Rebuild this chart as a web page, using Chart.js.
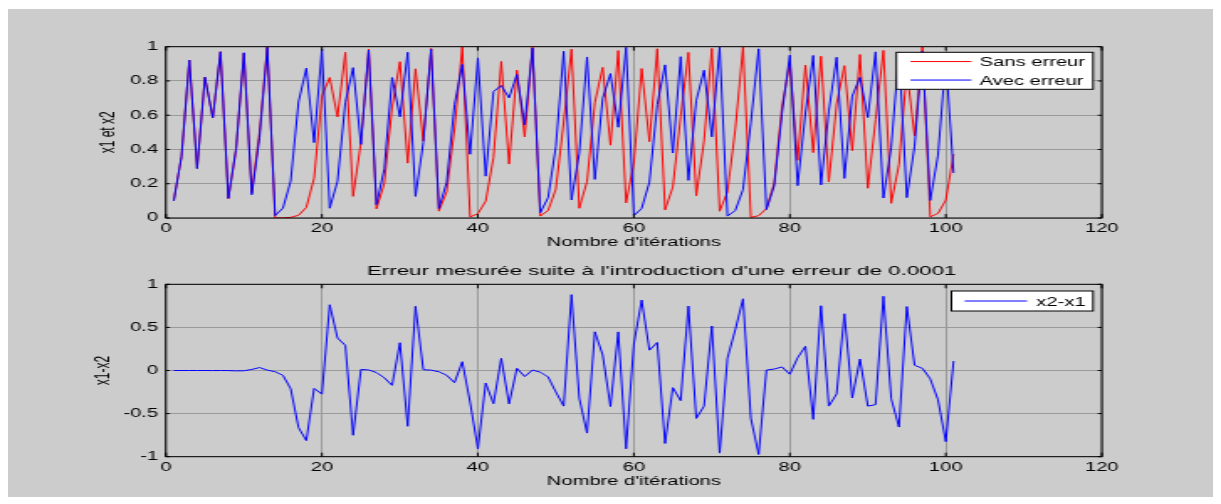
<!DOCTYPE html>
<html>
<head>
<meta charset="utf-8">
<script src="https://cdn.jsdelivr.net/npm/chart.js@4.4.1/dist/chart.umd.min.js"></script>
<style>
  html, body { margin: 0; padding: 0; background: #ffffff; }
  #page { position: relative; width: 1221px; height: 504px; overflow: hidden; }
  #fig { position: absolute; left: 8px; top: 9px; width: 1205px; height: 488px; background: #cccccc; }
  .plot { position: absolute; left: 0; width: 727px; height: 252px; transform-origin: 0 0; }
  #top { top: 0; }
  #bottom { top: 252px; }
</style>
</head>
<body>
<div id="page">
  <div id="fig"></div>
  <div class="plot" id="top"><canvas id="chartTop" width="727" height="252"></canvas></div>
  <div class="plot" id="bottom"><canvas id="chartBottom" width="727" height="252"></canvas></div>
</div>
<script>
// iteration index and the two logistic-map runs (without / with the initial error)
const iterations = [
  1, 2, 3, 4, 5, 6, 7, 8, 9, 10,
  11, 12, 13, 14, 15, 16, 17, 18, 19, 20,
  21, 22, 23, 24, 25, 26, 27, 28, 29, 30,
  31, 32, 33, 34, 35, 36, 37, 38, 39, 40,
  41, 42, 43, 44, 45, 46, 47, 48, 49, 50,
  51, 52, 53, 54, 55, 56, 57, 58, 59, 60,
  61, 62, 63, 64, 65, 66, 67, 68, 69, 70,
  71, 72, 73, 74, 75, 76, 77, 78, 79, 80,
  81, 82, 83, 84, 85, 86, 87, 88, 89, 90,
  91, 92, 93, 94, 95, 96, 97, 98, 99, 100,
  101
];

const sansErreur = [
  0.1, 0.36, 0.9216, 0.289, 0.8219, 0.5854, 0.9708, 0.1133, 0.402, 0.9616,
  0.1478, 0.5039, 0.9999, 0.0002, 0.001, 0.0039, 0.0157, 0.0617, 0.2317, 0.7121,
  0.82, 0.5904, 0.9673, 0.1264, 0.4417, 0.9864, 0.0537, 0.2034, 0.6482, 0.9122,
  0.3204, 0.8709, 0.4498, 0.9899, 0.04, 0.1536, 0.5199, 0.9984, 0.0063, 0.0251,
  0.0979, 0.3533, 0.9139, 0.3148, 0.8628, 0.4735, 0.9972, 0.0111, 0.044, 0.1684,
  0.56, 0.9856, 0.0568, 0.2144, 0.6738, 0.8792, 0.425, 0.9775, 0.0881, 0.3214,
  0.8724, 0.4453, 0.988, 0.0473, 0.1804, 0.5914, 0.9666, 0.1292, 0.4501, 0.99,
  0.0395, 0.1517, 0.5147, 0.9991, 0.0035, 0.0137, 0.0542, 0.2052, 0.6523, 0.9073,
  0.3366, 0.8931, 0.3818, 0.9441, 0.2111, 0.6663, 0.8894, 0.3934, 0.9545, 0.1737,
  0.574, 0.9781, 0.0857, 0.3134, 0.8607, 0.4795, 0.9983, 0.0067, 0.0267, 0.1041,
  0.373
];

const avecErreur = [
  0.1, 0.36, 0.9216, 0.2889, 0.8217, 0.586, 0.9705, 0.1147, 0.4062, 0.9648,
  0.1359, 0.4698, 0.9964, 0.0145, 0.0573, 0.216, 0.6773, 0.8742, 0.4399, 0.9856,
  0.057, 0.2149, 0.6749, 0.8777, 0.4295, 0.9801, 0.0781, 0.2879, 0.8201, 0.5903,
  0.9674, 0.1261, 0.4408, 0.986, 0.0553, 0.2089, 0.6611, 0.8962, 0.3722, 0.9347,
  0.2441, 0.7381, 0.7732, 0.7014, 0.8377, 0.5439, 0.9923, 0.0305, 0.1185, 0.4177,
  0.9729, 0.1056, 0.3776, 0.9401, 0.2253, 0.6982, 0.8429, 0.5297, 0.9965, 0.0141,
  0.0555, 0.2097, 0.6629, 0.8939, 0.3793, 0.9417, 0.2195, 0.6853, 0.8627, 0.4737,
  0.9972, 0.011, 0.0436, 0.1668, 0.556, 0.9875, 0.0495, 0.1883, 0.6115, 0.9503,
  0.1889, 0.6129, 0.949, 0.1935, 0.6241, 0.9384, 0.2313, 0.7113, 0.8214, 0.5867,
  0.9699, 0.1167, 0.4125, 0.9693, 0.1189, 0.419, 0.9738, 0.1022, 0.367, 0.9292,
  0.263
];

// measured gap between the two runs
const ecart = [
  0, 0, 0, 0, 0, -0.001, 0, -0.001, -0.004, -0.003,
  0.012, 0.034, 0.004, -0.014, -0.056, -0.212, -0.662, -0.813, -0.208, -0.274,
  0.763, 0.376, 0.292, -0.751, 0.012, 0.006, -0.024, -0.085, -0.172, 0.322,
  -0.647, 0.745, 0.009, 0.004, -0.015, -0.055, -0.141, 0.102, -0.366, -0.91,
  -0.146, -0.385, 0.141, -0.387, 0.025, -0.07, 0.005, -0.019, -0.075, -0.249,
  -0.413, 0.88, -0.321, -0.726, 0.449, 0.181, -0.418, 0.448, -0.908, 0.307,
  0.817, 0.236, 0.325, -0.847, -0.199, -0.35, 0.747, -0.556, -0.413, 0.516,
  -0.958, 0.141, 0.471, 0.832, -0.553, -0.974, 0.005, 0.017, 0.041, -0.043,
  0.148, 0.28, -0.567, 0.751, -0.413, -0.272, 0.658, -0.318, 0.133, -0.413,
  -0.396, 0.861, -0.327, -0.656, 0.742, 0.061, 0.025, -0.096, -0.34, -0.825,
  0.11
];

const xTicks = [0, 20, 40, 60, 80, 100, 120];
const yTicksTop = [0, 0.2, 0.4, 0.6, 0.8, 1];
const yTicksBottom = [-1, -0.5, 0, 0.5, 1];

const titreBas = "Erreur mesurée suite à l'introduction d'une erreur de 0.0001";

// the canvases are drawn narrow and widened with CSS, like the old exported figure
const CANVAS_W = 727;
const stretch = 1221 / CANVAS_W;
document.querySelectorAll('.plot').forEach(el => {
  el.style.transform = 'scaleX(' + stretch + ')';
});

const FONT = "'Liberation Sans', Arial, Helvetica, sans-serif";
Chart.defaults.font.family = FONT;
Chart.defaults.font.size = 12;
Chart.defaults.color = '#000000';

function points(ys) {
  return iterations.map((n, i) => ({ x: n, y: ys[i] }));
}

// black frame with small inward ticks on the four sides
const axesBox = {
  id: 'axesBox',
  afterDatasetsDraw(chart) {
    const { ctx, chartArea: a, scales: { x, y } } = chart;
    const tickV = 4, tickH = 4 / stretch;
    ctx.save();
    ctx.strokeStyle = '#000000';
    ctx.lineWidth = 1;
    ctx.strokeRect(a.left, a.top, a.right - a.left, a.bottom - a.top);
    ctx.beginPath();
    x.ticks.forEach(t => {
      const px = x.getPixelForValue(t.value);
      ctx.moveTo(px, a.bottom); ctx.lineTo(px, a.bottom - tickV);
      ctx.moveTo(px, a.top); ctx.lineTo(px, a.top + tickV);
    });
    y.ticks.forEach(t => {
      const py = y.getPixelForValue(t.value);
      ctx.moveTo(a.left, py); ctx.lineTo(a.left + tickH, py);
      ctx.moveTo(a.right, py); ctx.lineTo(a.right - tickH, py);
    });
    ctx.stroke();
    ctx.restore();
  }
};

// legend drawn as a white box inside the axes
const boxLegend = {
  id: 'boxLegend',
  afterDraw(chart, args, opts) {
    const { ctx } = chart;
    const sets = chart.data.datasets;
    ctx.save();
    ctx.fillStyle = '#ffffff';
    ctx.fillRect(opts.left, opts.top, opts.width, opts.height);
    ctx.lineWidth = 1;
    ctx.strokeStyle = '#000000';
    ctx.strokeRect(opts.left, opts.top, opts.width, opts.height);
    ctx.font = '12px ' + FONT;
    ctx.textBaseline = 'middle';
    ctx.textAlign = 'left';
    sets.forEach((ds, i) => {
      const rowY = opts.top + opts.height * (i + 0.5) / sets.length;
      ctx.strokeStyle = ds.borderColor;
      ctx.beginPath();
      ctx.moveTo(opts.left + opts.lineFrom, rowY);
      ctx.lineTo(opts.left + opts.lineTo, rowY);
      ctx.stroke();
      ctx.fillStyle = '#000000';
      ctx.fillText(ds.label, opts.left + opts.textX, rowY + 1.5);
    });
    ctx.restore();
  }
};

// axes title of the lower plot
const axesTitle = {
  id: 'axesTitle',
  afterDraw(chart, args, opts) {
    if (!opts.text) return;
    const { ctx } = chart;
    ctx.save();
    ctx.font = '13.3px ' + FONT;
    ctx.fillStyle = '#000000';
    ctx.textAlign = 'center';
    ctx.textBaseline = 'middle';
    ctx.fillText(opts.text, opts.x, opts.y);
    ctx.restore();
  }
};

function fixWidth(w) { return scale => { scale.width = w; }; }
function fixHeight(h) { return scale => { scale.height = h; }; }
const plainLabel = v => String(v);

function makeOptions(cfg) {
  return {
    responsive: false,
    devicePixelRatio: 1,
    animation: false,
    events: [],
    layout: { padding: cfg.padding },
    elements: { point: { radius: 0 }, line: { borderWidth: 1, tension: 0 } },
    scales: {
      x: {
        type: 'linear', min: 0, max: 120,
        afterBuildTicks: s => { s.ticks = xTicks.map(v => ({ value: v })); },
        afterFit: fixHeight(31.9),
        border: { display: false },
        grid: { color: '#9a9a9a', lineWidth: 1, drawTicks: false },
        ticks: { padding: 3.5, maxRotation: 0, autoSkip: false, callback: plainLabel, font: { size: 12 } },
        title: { display: true, text: "Nombre d'itérations", padding: 0, font: { size: 12 } }
      },
      y: {
        type: 'linear', min: cfg.yMin, max: cfg.yMax,
        afterBuildTicks: s => { s.ticks = cfg.yTicks.map(v => ({ value: v })); },
        afterFit: fixWidth(98.8 - cfg.padding.left),
        border: { display: false },
        grid: { color: '#9a9a9a', lineWidth: 1, drawTicks: false },
        ticks: { padding: 4.7, callback: plainLabel, font: { size: 12 } },
        title: { display: true, text: cfg.yTitle, padding: 0, font: { size: 12 } }
      }
    },
    plugins: {
      legend: { display: false },
      title: { display: false },
      tooltip: { enabled: false },
      boxLegend: cfg.legend,
      axesTitle: cfg.title || {}
    }
  };
}

new Chart(document.getElementById('chartTop'), {
  type: 'line',
  data: {
    datasets: [
      // blue run is plotted over the red one
      { label: 'Sans erreur', data: points(sansErreur), borderColor: '#ff0000', order: 1 },
      { label: 'Avec erreur', data: points(avecErreur), borderColor: '#0000ff', order: 0 }
    ]
  },
  options: makeOptions({
    padding: { left: 57.7, right: 71, top: 46.7, bottom: 2.1 },
    yMin: 0, yMax: 1, yTicks: yTicksTop, yTitle: 'x1 et x2',
    legend: { left: 533.7, top: 52.3, width: 117.1, height: 37, lineFrom: 8.4, lineTo: 44.7, textX: 49.6 }
  }),
  plugins: [axesBox, boxLegend, axesTitle]
});

new Chart(document.getElementById('chartBottom'), {
  type: 'line',
  data: {
    datasets: [
      { label: 'x2-x1', data: points(ecart), borderColor: '#0000ff' }
    ]
  },
  options: makeOptions({
    padding: { left: 54.9, right: 71, top: 32.3, bottom: 15.4 },
    yMin: -1, yMax: 1, yTicks: yTicksBottom, yTitle: 'x1-x2',
    legend: { left: 566.5, top: 39, width: 84.3, height: 20, lineFrom: 7.9, lineTo: 45, textX: 50.6 },
    title: { text: titreBas, x: 394, y: 19.5 }
  }),
  plugins: [axesBox, boxLegend, axesTitle]
});
</script>
</body>
</html>
